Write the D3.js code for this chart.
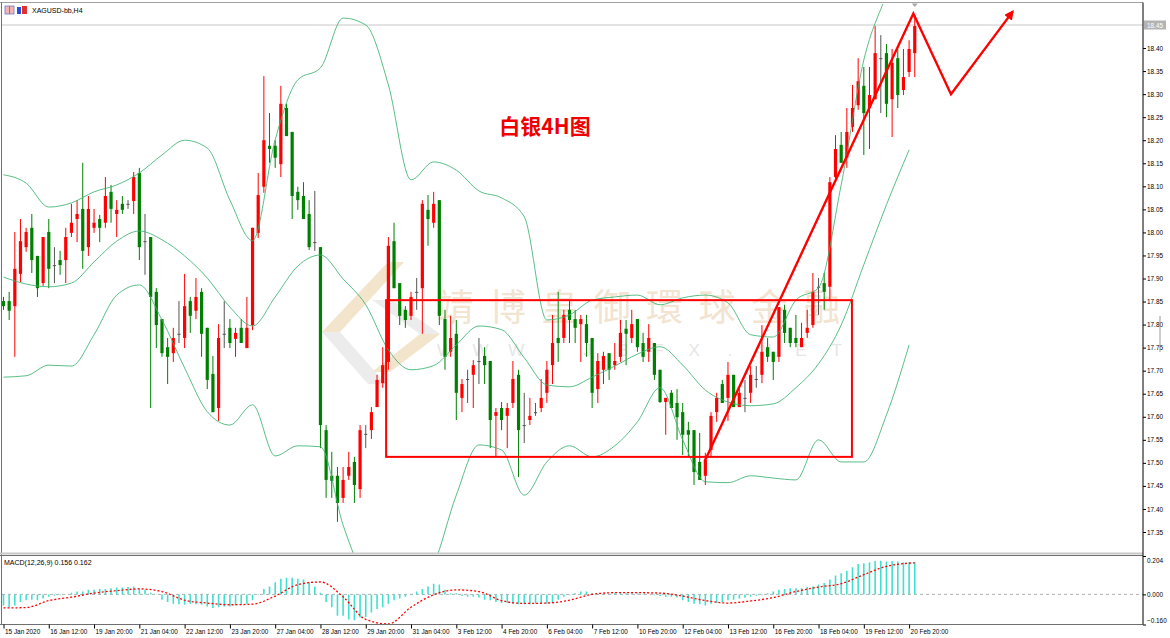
<!DOCTYPE html>
<html>
<head>
<meta charset="utf-8">
<script src="https://cdn.jsdelivr.net/npm/d3@7"></script>
<style>
  body { margin: 0; background: #fff; }
  svg { display: block; }
</style>
</head>
<body>
<svg id="chart" width="1170" height="638"></svg>
<script>
// ---- data (XAGUSD H4) ----
const tickLabels = ["15 Jan 2020", "16 Jan 12:00", "19 Jan 20:00", "21 Jan 04:00", "22 Jan 12:00",
  "23 Jan 20:00", "27 Jan 04:00", "28 Jan 12:00", "29 Jan 20:00", "31 Jan 04:00", "3 Feb 12:00",
  "4 Feb 20:00", "6 Feb 04:00", "7 Feb 12:00", "10 Feb 20:00", "12 Feb 04:00", "13 Feb 12:00",
  "16 Feb 20:00", "18 Feb 04:00", "19 Feb 12:00", "20 Feb 20:00"];

const opens = [17.851,17.851,17.840,17.910,17.968,18.010,17.949,17.890,18.001,17.929,
  17.940,17.940,17.999,18.029,18.051,17.968,18.010,18.029,18.021,18.088,
  18.040,18.062,18.062,18.068,18.129,17.981,17.990,17.871,17.812,17.751,
  17.738,17.780,17.771,17.851,17.830,17.871,17.793,17.693,17.619,17.780,
  17.793,17.769,17.793,17.749,17.799,17.999,18.099,18.188,18.188,18.148,
  18.270,18.218,18.088,18.079,18.040,17.979,17.968,17.571,17.472,17.472,
  17.424,17.472,17.502,17.443,17.563,17.571,17.621,17.673,17.719,17.981,
  17.890,17.832,17.819,17.871,17.879,18.049,18.021,18.070,17.812,17.741,
  17.780,17.641,17.682,17.691,17.721,17.732,17.721,17.602,17.619,17.602,
  17.630,17.691,17.582,17.593,17.610,17.619,17.652,17.712,17.771,17.771,
  17.832,17.812,17.801,17.801,17.771,17.660,17.702,17.738,17.712,17.730,
  17.791,17.771,17.812,17.760,17.741,17.760,17.702,17.632,17.652,17.630,
  17.610,17.571,17.571,17.502,17.472,17.528,17.610,17.671,17.641,17.691,
  17.621,17.641,17.652,17.682,17.691,17.751,17.741,17.730,17.832,17.793,
  17.771,17.751,17.782,17.799,17.882,17.890,17.882,18.120,18.190,18.162,
  18.229,18.276,18.318,18.270,18.289,18.378,18.389,18.289,18.378,18.309,
  18.348,18.389];
const highs = [17.860,17.871,18.001,18.029,18.010,18.040,17.949,17.990,18.029,17.968,
  17.960,18.010,18.062,18.070,18.151,18.079,18.051,18.038,18.120,18.103,
  18.070,18.079,18.070,18.131,18.140,18.040,17.990,17.879,17.812,17.771,
  17.793,17.851,17.910,17.860,17.901,17.879,17.793,17.732,17.801,17.851,
  17.812,17.793,17.812,17.860,18.010,18.129,18.339,18.259,18.200,18.318,
  18.279,18.218,18.099,18.109,18.070,18.090,17.968,17.582,17.524,17.491,
  17.491,17.524,17.513,17.582,17.582,17.621,17.691,17.751,17.990,18.021,
  17.890,17.840,17.871,17.901,18.070,18.081,18.088,18.070,17.832,17.819,
  17.810,17.682,17.702,17.723,17.771,17.751,17.721,17.619,17.632,17.630,
  17.721,17.702,17.652,17.641,17.630,17.682,17.721,17.821,17.871,17.832,
  17.853,17.832,17.821,17.821,17.771,17.738,17.741,17.738,17.760,17.810,
  17.810,17.832,17.812,17.782,17.801,17.760,17.702,17.641,17.658,17.660,
  17.630,17.589,17.571,17.565,17.522,17.610,17.652,17.680,17.719,17.691,
  17.663,17.680,17.710,17.710,17.799,17.771,17.741,17.838,17.843,17.793,
  17.821,17.804,17.832,17.912,17.901,17.912,18.120,18.211,18.218,18.270,
  18.320,18.378,18.359,18.359,18.448,18.428,18.409,18.398,18.398,18.398,
  18.417,18.472];
const lows = [17.832,17.810,17.730,17.892,17.958,17.912,17.860,17.884,17.879,17.890,
  17.908,17.890,17.990,17.979,17.921,17.949,17.999,17.979,18.010,18.021,
  17.990,18.040,18.051,18.040,17.940,17.908,17.619,17.749,17.730,17.671,
  17.719,17.760,17.749,17.782,17.812,17.730,17.660,17.610,17.591,17.749,
  17.749,17.730,17.760,17.749,17.788,17.988,18.086,18.151,18.140,18.120,
  18.209,18.029,18.049,18.029,17.962,17.960,17.532,17.424,17.424,17.372,
  17.413,17.463,17.413,17.424,17.532,17.552,17.621,17.663,17.702,17.879,
  17.799,17.793,17.810,17.832,17.780,17.971,18.010,17.799,17.702,17.730,
  17.593,17.610,17.630,17.619,17.671,17.671,17.532,17.513,17.571,17.532,
  17.619,17.469,17.543,17.582,17.602,17.610,17.630,17.671,17.719,17.760,
  17.760,17.760,17.719,17.730,17.619,17.630,17.671,17.680,17.702,17.719,
  17.712,17.760,17.741,17.719,17.719,17.680,17.630,17.561,17.619,17.550,
  17.517,17.513,17.452,17.463,17.452,17.511,17.589,17.630,17.591,17.621,
  17.621,17.610,17.630,17.663,17.673,17.719,17.680,17.719,17.760,17.751,
  17.751,17.751,17.771,17.793,17.821,17.832,17.853,18.109,18.151,18.140,
  18.218,18.266,18.168,18.181,18.289,18.259,18.250,18.207,18.270,18.298,
  18.337,18.337];
const closes = [17.840,17.830,17.921,17.981,18.001,17.940,17.879,17.990,17.921,17.929,
  17.929,17.990,18.021,18.040,17.960,18.051,18.021,18.010,18.079,18.051,
  18.049,18.049,18.062,18.120,17.968,17.981,17.860,17.799,17.738,17.730,
  17.771,17.780,17.840,17.819,17.860,17.780,17.680,17.610,17.771,17.780,
  17.760,17.782,17.760,17.793,18.010,18.081,18.200,18.181,18.162,18.279,
  18.209,18.079,18.070,18.029,17.968,17.979,17.582,17.463,17.461,17.413,
  17.463,17.491,17.452,17.571,17.563,17.610,17.680,17.712,17.971,17.879,
  17.819,17.810,17.860,17.871,18.062,18.029,18.062,17.819,17.730,17.771,
  17.652,17.671,17.682,17.712,17.721,17.712,17.593,17.610,17.593,17.619,
  17.682,17.571,17.582,17.602,17.610,17.641,17.702,17.760,17.760,17.821,
  17.810,17.793,17.812,17.760,17.652,17.721,17.732,17.702,17.721,17.782,
  17.780,17.801,17.751,17.730,17.771,17.691,17.632,17.641,17.619,17.599,
  17.561,17.561,17.480,17.463,17.506,17.602,17.641,17.630,17.691,17.621,
  17.652,17.641,17.691,17.682,17.741,17.730,17.719,17.838,17.782,17.760,
  17.760,17.771,17.793,17.871,17.882,17.871,18.109,18.181,18.151,18.218,
  18.270,18.328,18.259,18.298,18.389,18.378,18.279,18.368,18.298,18.337,
  18.398,18.448];

// Bollinger bands, sampled every 4th bar
const bandStep = 4;
const upperBand = [18.125,18.107,18.055,18.064,18.088,18.103,18.129,18.168,18.200,18.183,
  18.070,17.982,18.201,18.331,18.357,18.465,18.450,18.320,18.114,18.153,
  18.135,18.090,18.075,18.034,17.810,17.821,17.853,17.860,17.864,17.843,
  17.858,17.864,17.847,17.778,17.773,17.853,17.880,18.103,18.374,18.515,18.634];
const middleBand = [17.903,17.888,17.882,17.890,17.936,17.981,18.003,17.984,17.949,17.901,
  17.838,17.797,17.860,17.927,17.951,17.899,17.843,17.745,17.702,17.711,
  17.756,17.797,17.789,17.728,17.669,17.665,17.686,17.710,17.736,17.752,
  17.712,17.658,17.632,17.624,17.628,17.663,17.715,17.799,17.930,18.060,18.179];
const lowerBand = [17.686,17.689,17.712,17.710,17.778,17.864,17.886,17.810,17.706,17.611,
  17.582,17.626,17.515,17.537,17.535,17.365,17.246,17.203,17.214,17.279,
  17.430,17.539,17.528,17.430,17.502,17.537,17.513,17.537,17.589,17.663,
  17.550,17.459,17.457,17.472,17.467,17.463,17.550,17.502,17.502,17.604,17.756];

// MACD(12,26,9): histogram per bar, signal sampled every 4th bar (+ last bar)
const macdHist = [-0.059,-0.068,-0.059,-0.041,-0.031,-0.028,-0.031,-0.022,-0.013,-0.007,
  -0.004,0.001,0.009,0.015,0.015,0.024,0.024,0.028,0.029,0.033,
  0.037,0.037,0.039,0.042,0.033,0.024,0.009,-0.002,-0.028,-0.041,
  -0.050,-0.053,-0.055,-0.050,-0.053,-0.055,-0.064,-0.072,-0.068,-0.064,
  -0.064,-0.059,-0.055,-0.050,-0.031,0.002,0.028,0.042,0.064,0.083,
  0.088,0.088,0.083,0.079,0.064,0.042,0.009,-0.041,-0.068,-0.114,
  -0.114,-0.133,-0.138,-0.123,-0.120,-0.096,-0.077,-0.068,-0.050,-0.031,
  -0.022,-0.013,-0.004,0.015,0.028,0.042,0.057,0.052,0.024,0.006,
  0.006,-0.009,-0.013,-0.013,-0.017,-0.028,-0.031,-0.041,-0.046,-0.046,
  -0.050,-0.053,-0.053,-0.053,-0.050,-0.050,-0.050,-0.041,-0.028,-0.013,
  -0.004,0.006,0.015,0.015,0.006,0.002,0.002,0.002,0.006,0.006,
  0.006,0.006,0.006,0.002,0.000,-0.004,-0.009,-0.013,-0.013,-0.017,
  -0.031,-0.041,-0.050,-0.053,-0.059,-0.050,-0.046,-0.041,-0.031,-0.028,
  -0.022,-0.018,-0.013,-0.007,-0.004,0.006,0.015,0.024,0.029,0.033,
  0.033,0.033,0.039,0.042,0.052,0.061,0.079,0.101,0.112,0.125,
  0.144,0.162,0.166,0.171,0.177,0.179,0.175,0.177,0.175,0.171,
  0.171,0.171];
const signalIndex = [0,4,8,12,16,20,24,28,32,36,40,44,48,52,56,60,64,68,72,76,80,
  84,88,92,96,100,104,108,112,116,120,124,128,132,136,140,144,148,152,156,160,161];
const macdSignal = [-0.072,-0.070,-0.033,-0.015,0.007,0.020,0.029,0.015,-0.031,-0.046,
  -0.055,-0.052,-0.009,0.052,0.066,-0.013,-0.133,-0.157,-0.068,-0.002,
  0.024,0.015,-0.033,-0.048,-0.046,-0.031,0.000,0.009,0.009,0.007,
  -0.009,-0.033,-0.046,-0.035,-0.017,0.015,0.039,0.057,0.105,0.149,0.166,0.168];

const priceTicks = [18.40,18.35,18.30,18.25,18.20,18.15,18.10,18.05,18.00,17.95,17.90,
  17.85,17.80,17.75,17.70,17.65,17.60,17.55,17.50,17.45,17.40,17.35];
const macdTicks = [0.204, 0.000, -0.160];
const lastPrice = 18.45;

// hand-drawn annotations: [bar index, price]
const boxCorners = [[67.6, 17.853], [149.9, 17.513]];
const arrowPath = [[123.9, 17.504], [160.75, 18.475], [167.4, 18.300], [178.3, 18.479]];

const watermarkCn = "靖博皇御環球金融";
const watermarkEn = "WWW.JBFX.NET";

// ---- layout ----
const width = 1170, height = 638;
const axisX = 1143;
const mainTop = 4, mainBottom = 553;
const macdTop = 556, macdBottom = 624.5;
const upColor = "#ff0000", downColor = "#008000", dojiColor = "#555";
const labelFont = "'Liberation Sans', Arial, sans-serif";

const svg = d3.select("#chart");

svg.append("rect").attr("width", width).attr("height", height).attr("fill", "#fff");

const x = d3.scaleLinear().domain([0, 160]).range([3.5, 909.1]);
const y = d3.scaleLinear().domain([17.35, 18.45]).range([532, 25]);
const ym = d3.scaleLinear().domain([-0.160, 0.204]).range([macdBottom, macdTop]);

const defs = svg.append("defs");
defs.append("clipPath").attr("id", "clip-main")
  .append("rect").attr("x", 2).attr("y", mainTop).attr("width", axisX - 2).attr("height", mainBottom - mainTop);
defs.append("clipPath").attr("id", "clip-macd")
  .append("rect").attr("x", 2).attr("y", macdTop).attr("width", axisX - 2).attr("height", macdBottom - macdTop);
defs.append("marker")
  .attr("id", "arrow-head")
  .attr("viewBox", "0 0 10 10")
  .attr("refX", 8).attr("refY", 5)
  .attr("markerWidth", 4).attr("markerHeight", 4)
  .attr("orient", "auto")
  .append("path").attr("d", "M0,0L10,5L0,10Z").attr("fill", upColor);

// ---- watermark ----
const wm = svg.append("g").attr("id", "watermark").attr("clip-path", "url(#clip-main)");

// logo: two interlocking chevrons
wm.append("polygon")
  .attr("points", "322,332 388,262 404,262 340,332")
  .attr("fill", "#f3e4cc");
wm.append("polygon")
  .attr("points", "322,332 340,332 386,384 368,384")
  .attr("fill", "#ececec");
wm.append("polygon")
  .attr("points", "372,300 392,300 440,334 420,334")
  .attr("fill", "#ececec");
wm.append("polygon")
  .attr("points", "372,372 420,334 440,334 390,372")
  .attr("fill", "#f3e4cc");

wm.selectAll("text.cn")
  .data(Array.from(watermarkCn))
  .join("text")
  .attr("class", "cn")
  .attr("x", (d, i) => 455 + i * 52.4)
  .attr("y", 305)
  .attr("text-anchor", "middle")
  .attr("dominant-baseline", "central")
  .attr("font-family", "'Noto Sans CJK TC', 'Noto Sans CJK SC', sans-serif")
  .attr("font-size", 37)
  .attr("fill", "#f2e4d0")
  .text((d) => d);

wm.selectAll("text.en")
  .data(Array.from(watermarkEn))
  .join("text")
  .attr("class", "en")
  .attr("x", (d, i) => 445 + i * 35.6)
  .attr("y", 350)
  .attr("text-anchor", "middle")
  .attr("dominant-baseline", "central")
  .attr("font-family", labelFont)
  .attr("font-size", 17)
  .attr("fill", "#e6e6e6")
  .text((d) => d);

// ---- main panel ----
const main = svg.append("g").attr("id", "main").attr("clip-path", "url(#clip-main)");

// current price line
main.append("line")
  .attr("x1", 2).attr("x2", axisX)
  .attr("y1", y(lastPrice)).attr("y2", y(lastPrice))
  .attr("stroke", "#c8c8c8").attr("stroke-width", 1);

const candles = opens.map((o, i) => ({
  i, o, h: highs[i], l: lows[i], c: closes[i],
}));
const candleColor = (d) => (d.c > d.o ? upColor : d.c < d.o ? downColor : dojiColor);

const candleLayer = main.append("g").attr("id", "candles");

candleLayer.selectAll("line.wick")
  .data(candles)
  .join("line")
  .attr("class", "wick")
  .attr("x1", (d) => x(d.i)).attr("x2", (d) => x(d.i))
  .attr("y1", (d) => y(d.h)).attr("y2", (d) => y(d.l))
  .attr("stroke", candleColor)
  .attr("stroke-width", 1);

candleLayer.selectAll("rect.body")
  .data(candles)
  .join("rect")
  .attr("class", "body")
  .attr("x", (d) => x(d.i) - 1.6)
  .attr("width", 3.2)
  .attr("y", (d) => y(Math.max(d.o, d.c)))
  .attr("height", (d) => Math.max(1, Math.abs(y(d.o) - y(d.c))))
  .attr("fill", candleColor);

// Bollinger bands
const bandLine = d3.line()
  .x((d, k) => x(k * bandStep))
  .y((d) => y(d))
  .curve(d3.curveMonotoneX);

const bandLayer = main.append("g").attr("id", "bands");
[upperBand, middleBand, lowerBand].forEach((band) => {
  bandLayer.append("path")
    .attr("d", bandLine(band))
    .attr("fill", "none")
    .attr("stroke", "#3cb371")
    .attr("stroke-opacity", 0.85)
    .attr("stroke-width", 1);
});

// annotations
const annot = svg.append("g").attr("id", "annotations");
annot.append("rect")
  .attr("x", x(boxCorners[0][0]))
  .attr("y", y(boxCorners[0][1]))
  .attr("width", x(boxCorners[1][0]) - x(boxCorners[0][0]))
  .attr("height", y(boxCorners[1][1]) - y(boxCorners[0][1]))
  .attr("fill", "none")
  .attr("stroke", upColor)
  .attr("stroke-width", 2);

annot.append("path")
  .attr("d", d3.line().x((d) => x(d[0])).y((d) => y(d[1]))(arrowPath))
  .attr("fill", "none")
  .attr("stroke", upColor)
  .attr("stroke-width", 2.4)
  .attr("stroke-linejoin", "miter")
  .attr("marker-end", "url(#arrow-head)");

annot.append("text")
  .attr("x", 545)
  .attr("y", 125)
  .attr("text-anchor", "middle")
  .attr("dominant-baseline", "central")
  .attr("font-family", "'Noto Sans CJK SC', sans-serif")
  .attr("font-weight", "bold")
  .attr("font-size", 21)
  .attr("fill", "#ee0000")
  .text("白银4H图");

// ---- MACD panel ----
const macd = svg.append("g").attr("id", "macd").attr("clip-path", "url(#clip-macd)");

macd.append("line")
  .attr("x1", 2).attr("x2", axisX)
  .attr("y1", ym(0)).attr("y2", ym(0))
  .attr("stroke", "#b0b0b0")
  .attr("stroke-dasharray", "3,3");

macd.selectAll("line.hist")
  .data(macdHist)
  .join("line")
  .attr("class", "hist")
  .attr("x1", (d, i) => x(i)).attr("x2", (d, i) => x(i))
  .attr("y1", ym(0))
  .attr("y2", (d) => ym(d))
  .attr("stroke", "#40e0d0")
  .attr("stroke-width", 1.6);

macd.append("path")
  .attr("d", d3.line()
    .x((d, k) => x(signalIndex[k]))
    .y((d) => ym(d))
    .curve(d3.curveMonotoneX)(macdSignal))
  .attr("fill", "none")
  .attr("stroke", upColor)
  .attr("stroke-width", 1.3)
  .attr("stroke-dasharray", "2,2");

svg.append("text")
  .attr("x", 4).attr("y", 565)
  .attr("font-family", labelFont)
  .attr("font-size", 7)
  .attr("fill", "#000")
  .text("MACD(12,26,9) 0.156 0.162");

// ---- frame ----
const frame = svg.append("g").attr("id", "frame");
frame.append("line").attr("x1", 0).attr("x2", axisX).attr("y1", 2.5).attr("y2", 2.5)
  .attr("stroke", "#a0a0a0");
frame.append("line").attr("x1", 1.5).attr("x2", 1.5).attr("y1", 2.5).attr("y2", macdBottom)
  .attr("stroke", "#707070");
frame.append("rect").attr("x", 0).attr("y", mainBottom - 0.5).attr("width", axisX).attr("height", 2)
  .attr("fill", "#c8c8c8");
frame.append("line").attr("x1", 0).attr("x2", axisX).attr("y1", macdTop - 0.5).attr("y2", macdTop - 0.5)
  .attr("stroke", "#707070");
frame.append("line").attr("x1", 0).attr("x2", axisX).attr("y1", macdBottom).attr("y2", macdBottom)
  .attr("stroke", "#707070");
frame.append("line").attr("x1", axisX).attr("x2", axisX).attr("y1", 2.5).attr("y2", macdBottom)
  .attr("stroke", "#000");

// symbol header
const head = svg.append("g").attr("id", "header");
head.append("rect").attr("x", 5).attr("y", 6).attr("width", 9).attr("height", 8)
  .attr("fill", "#f4b4b4").attr("stroke", "#6a7fc8").attr("stroke-width", 0.8);
head.append("line").attr("x1", 9.5).attr("x2", 9.5).attr("y1", 6).attr("y2", 14).attr("stroke", "#6a7fc8");
head.append("rect").attr("x", 17).attr("y", 7).attr("width", 4).attr("height", 7).attr("fill", "#2850d8");
head.append("rect").attr("x", 22).attr("y", 6).attr("width", 5).attr("height", 8).attr("fill", "#e03030");
head.append("text")
  .attr("x", 32).attr("y", 13)
  .attr("font-family", labelFont)
  .attr("font-size", 7)
  .attr("fill", "#000")
  .text("XAGUSD-bb,H4");

// last price marker on the top edge
frame.append("path")
  .attr("d", `M${x(161) - 3},3.5L${x(161) + 3},3.5L${x(161)},7Z`)
  .attr("fill", "#a8a8a8");

// ---- axes ----
const priceAxis = svg.append("g")
  .attr("transform", `translate(${axisX},0)`)
  .call(d3.axisRight(y).tickValues(priceTicks).tickSize(3).tickPadding(1).tickFormat(d3.format(".2f")));

const macdAxis = svg.append("g")
  .attr("transform", `translate(${axisX},0)`)
  .call(d3.axisRight(ym).tickValues(macdTicks).tickSize(3).tickPadding(1).tickFormat(d3.format(".3f")));
macdAxis.selectAll(".tick text")
  .attr("dy", (d) => (d > 0.1 ? "0.95em" : d < -0.1 ? "-0.3em" : "0.32em"));

const timeAxis = svg.append("g")
  .attr("transform", `translate(0,${macdBottom})`)
  .call(d3.axisBottom(x)
    .tickValues(tickLabels.map((d, k) => k * 8))
    .tickSize(4)
    .tickFormat((d, k) => tickLabels[k]));
timeAxis.selectAll(".tick text")
  .attr("text-anchor", "start")
  .attr("x", 1)
  .attr("y", 5);

[priceAxis, macdAxis, timeAxis].forEach((g) => {
  g.select(".domain").remove();
  g.selectAll(".tick line").attr("stroke", "#000");
  g.selectAll(".tick text")
    .attr("font-family", labelFont)
    .attr("font-size", 6.4)
    .attr("fill", "#000");
});

// current price box
svg.append("rect")
  .attr("x", axisX + 1).attr("y", y(lastPrice) - 4.5)
  .attr("width", 22).attr("height", 9)
  .attr("fill", "#b4b4b4");
svg.append("text")
  .attr("x", axisX + 4).attr("y", y(lastPrice))
  .attr("dominant-baseline", "central")
  .attr("font-family", labelFont)
  .attr("font-size", 6.4)
  .attr("fill", "#fff")
  .text(d3.format(".2f")(lastPrice));

svg.append("line")
  .attr("x1", 1160).attr("x2", 1160).attr("y1", 316).attr("y2", 352)
  .attr("stroke", "#9a9a9a");
</script>
</body>
</html>
